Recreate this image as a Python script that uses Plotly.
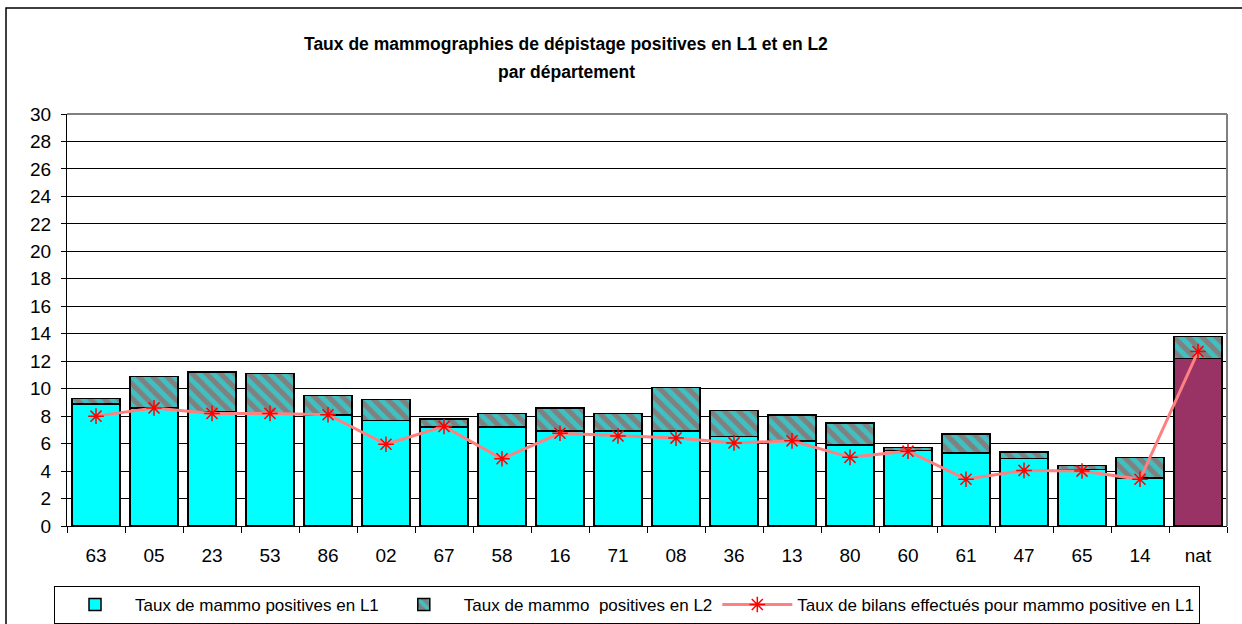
import plotly.graph_objects as go

categories = ["63", "05", "23", "53", "86", "02", "67", "58", "16", "71",
              "08", "36", "13", "80", "60", "61", "47", "65", "14", "nat"]
l1_values = [8.9, 8.6, 8.3, 8.2, 8.1, 7.7, 7.2, 7.2, 6.9, 6.9,
             6.9, 6.5, 6.2, 5.9, 5.5, 5.3, 4.9, 4.1, 3.5, 12.2]
total_values = [9.3, 10.9, 11.2, 11.1, 9.5, 9.2, 7.8, 8.2, 8.6, 8.2,
                10.1, 8.4, 8.1, 7.5, 5.7, 6.7, 5.4, 4.4, 5.0, 13.8]
l2_values = [round(t - a, 2) for t, a in zip(total_values, l1_values)]
bilan_values = [8.0, 8.6, 8.2, 8.2, 8.1, 5.95, 7.25, 4.9, 6.75, 6.55,
                6.4, 6.05, 6.2, 5.0, 5.45, 3.4, 4.05, 4.0, 3.4, 12.7]
y_ticks = list(range(0, 31, 2))

FONT = "Arial, 'Liberation Sans', sans-serif"
l1_colors = ["#993366" if c == "nat" else "#00FFFF" for c in categories]

fig = go.Figure()
fig.add_trace(go.Bar(
    x=categories, y=l1_values, name="Taux de mammo positives en L1",
    marker=dict(color=l1_colors, line=dict(color="black", width=1.5)),
))
fig.add_trace(go.Bar(
    x=categories, y=l2_values, name="Taux de mammo  positives en L2",
    marker=dict(color="#808080", line=dict(color="black", width=1.5),
                pattern=dict(shape="\\", fgcolor="#00FFFF", bgcolor="#808080",
                             size=10, solidity=0.5)),
))
fig.add_trace(go.Scatter(
    x=categories, y=bilan_values, mode="lines+markers",
    name="Taux de bilans effectués pour mammo positive en L1",
    line=dict(color="#FF8080", width=3),
    marker=dict(symbol="asterisk-open", size=13, color="#FF0000",
                line=dict(color="#FF0000", width=1.5)),
))

fig.update_layout(
    width=1242, height=624,
    margin=dict(l=67, r=15, t=114, b=98, autoexpand=False),
    paper_bgcolor="white", plot_bgcolor="white",
    barmode="stack", bargap=0.17,
    font=dict(family=FONT, color="black", size=19),
    showlegend=True,
    legend=dict(orientation="h", x=(627 - 67) / 1160, xanchor="center",
                y=(526 - 586) / 412, yanchor="top",
                bordercolor="black", borderwidth=1, font=dict(size=17, family=FONT),
                itemwidth=70, tracegroupgap=0, traceorder="normal"),
    xaxis=dict(type="category", range=[-0.5, 19.5], showline=True, linecolor="black",
               linewidth=1, ticks="outside", ticklen=6, tickcolor="black",
               tickson="boundaries", ticklabelstandoff=12, tickfont=dict(size=19),
               showgrid=False),
    yaxis=dict(range=[0, 30], tickvals=y_ticks, showline=True, linecolor="black",
               linewidth=1, ticks="outside", ticklen=5, tickcolor="black",
               showgrid=True, gridcolor="black", gridwidth=1,
               ticklabelstandoff=6, tickfont=dict(size=19), zeroline=False),
    shapes=[
        dict(type="rect", xref="paper", yref="paper",
             x0=(6 - 67) / 1160, x1=(1260 - 67) / 1160,
             y0=(526 - 650) / 412, y1=(526 - 8) / 412,
             line=dict(color="black", width=1.5), layer="below"),
        dict(type="line", xref="paper", yref="paper", x0=1, x1=1, y0=0, y1=1,
             line=dict(color="#808080", width=2), layer="above"),
        dict(type="line", xref="paper", yref="paper", x0=0, x1=1, y0=1, y1=1,
             line=dict(color="#808080", width=2), layer="above"),
    ],
    annotations=[
        dict(text="<b>Taux de mammographies de dépistage positives en L1 et en L2</b>",
             xref="paper", yref="paper", x=(566 - 67) / 1160, y=(526 - 44) / 412,
             xanchor="center", yanchor="middle", showarrow=False,
             font=dict(size=17.5, family=FONT)),
        dict(text="<b>par département</b>",
             xref="paper", yref="paper", x=(566 - 67) / 1160, y=(526 - 72) / 412,
             xanchor="center", yanchor="middle", showarrow=False,
             font=dict(size=17.5, family=FONT)),
    ],
)

fig.write_html("out.html", config={"displayModeBar": False},
               post_script="document.body.style.margin='0';document.body.style.padding='0';")
